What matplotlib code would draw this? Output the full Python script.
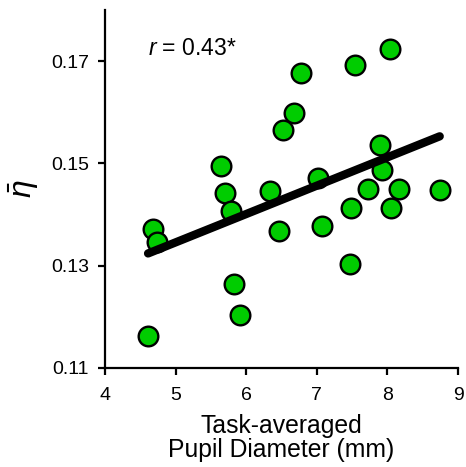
import matplotlib
matplotlib.use("Agg")
import matplotlib.pyplot as plt

plt.rcParams['font.family'] = ['Liberation Sans', 'DejaVu Sans']
plt.rcParams['mathtext.fontset'] = 'custom'
plt.rcParams['mathtext.rm'] = 'Liberation Sans'
plt.rcParams['mathtext.it'] = 'Liberation Sans:italic'

pupil_mm = [8.03, 7.54, 6.77, 6.67, 6.52, 5.64, 7.90, 7.92, 7.01, 7.72, 8.16, 8.74,
            6.34, 5.70, 5.78, 4.68, 4.73, 6.47, 7.08, 7.48, 8.05, 7.47, 5.82, 5.91, 4.61]
eta_bar = [0.1723, 0.1692, 0.1677, 0.1598, 0.1565, 0.1495, 0.1537, 0.1487, 0.1472, 0.1450,
           0.1450, 0.1448, 0.1446, 0.1443, 0.1407, 0.1371, 0.1347, 0.1368, 0.1378, 0.1412,
           0.1412, 0.1303, 0.1264, 0.1204, 0.1163]
fit_x = [4.61, 8.74]
fit_y = [0.1324, 0.1553]
x_ticks = [4, 5, 6, 7, 8, 9]
y_ticks = [0.11, 0.13, 0.15, 0.17]
y_tick_labels = ['0.11', '0.13', '0.15', '0.17']

fig = plt.figure(figsize=(4.66, 4.67), dpi=100)
ax = fig.add_axes([0.2253, 0.212, 0.7577, 0.7666])

ax.scatter(pupil_mm, eta_bar, s=200, facecolor='#00CC00', edgecolor='black',
           linewidth=1.7, zorder=3, clip_on=False)
ax.plot(fit_x, fit_y, color='black', linewidth=6, solid_capstyle='round', zorder=4)

ax.set_xlim(4, 9)
ax.set_ylim(0.11, 0.18)
ax.set_xticks(x_ticks)
ax.set_yticks(y_ticks)
ax.set_yticklabels(y_tick_labels)
for s in ['top', 'right']:
    ax.spines[s].set_visible(False)
for s in ['left', 'bottom']:
    ax.spines[s].set_linewidth(1.6)
ax.tick_params(direction='out', length=5, width=1.6, labelsize=14)
ax.tick_params(axis='x', pad=9)
ax.tick_params(axis='y', pad=6.5)

ax.set_xlabel('Task-averaged\nPupil Diameter (mm)', fontsize=17.8, labelpad=7, linespacing=1.0)
ax.set_ylabel(r'$\bar{\eta}$', fontsize=23, labelpad=7)

ax.text(0.122, 0.893, r'$r$ = 0.43*', transform=ax.transAxes, fontsize=16.5,
        ha='left', va='center')

fig.savefig('out.png', dpi=100)
